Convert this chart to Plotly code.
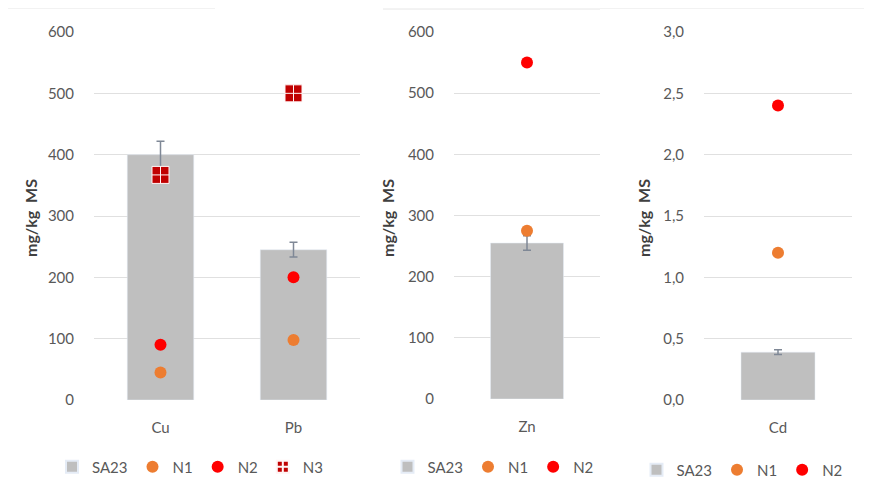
import plotly.graph_objects as go

# ---- data ----
cats_a = ["Cu", "Pb"]
sa23_a = [400, 245]
err_a = [22, 12]
n1_a = [45, 98]
n2_a = [90, 200]
n3_a = [367, 500]

cats_b = ["Zn"]
sa23_b = [255]
err_b = [12]
n1_b = [275]
n2_b = [550]

cats_c = ["Cd"]
sa23_c = [0.39]
err_c = [0.02]
n1_c = [1.2]
n2_c = [2.4]

OFF = 8                      # page body margin offset
W, H = 872 - OFF, 490 - OFF  # figure size so that it fits in the window
BAR = "#BFBFBF"
C_N1 = "#ED7D31"
C_N2 = "#FF0000"
C_N3 = "#C00000"
ERR = "#7F8896"
FONT = "Lato"

def fx(p):
    return (p - OFF) / W

def fy(p):
    return 1 - (p - OFF) / H

def px_x(a, b):
    return [fx(a), fx(b)]

def px_y(top, bottom):
    return [fy(bottom), fy(top)]

fig = go.Figure()

def add_panel(cats, sa, err, n1, n2, n3, xa, ya, leg):
    fig.add_trace(go.Bar(x=cats, y=sa, name="SA23", marker_color=BAR, width=0.5,
                         error_y=dict(type="data", array=err, color=ERR, thickness=1.5, width=4),
                         xaxis=xa, yaxis=ya, legend=leg))
    fig.add_trace(go.Scatter(x=cats, y=n1, name="N1", mode="markers",
                             marker=dict(color=C_N1, size=12, symbol="circle"),
                             xaxis=xa, yaxis=ya, legend=leg))
    fig.add_trace(go.Scatter(x=cats, y=n2, name="N2", mode="markers",
                             marker=dict(color=C_N2, size=12, symbol="circle"),
                             xaxis=xa, yaxis=ya, legend=leg))
    if n3 is not None:
        fig.add_trace(go.Scatter(x=cats, y=n3, name="N3", mode="markers",
                                 marker=dict(color=C_N3, size=17, symbol="square-cross",
                                             line=dict(color="#FFF4F4", width=1)),
                                 xaxis=xa, yaxis=ya, legend=leg))

add_panel(cats_a, sa23_a, err_a, n1_a, n2_a, n3_a, "x", "y", "legend")
add_panel(cats_b, sa23_b, err_b, n1_b, n2_b, None, "x2", "y2", "legend2")
add_panel(cats_c, sa23_c, err_c, n1_c, n2_c, None, "x3", "y3", "legend3")

tickfont = dict(family=FONT, size=15, color="#595959")
xcommon = dict(showgrid=False, showline=False, zeroline=False, ticks="outside",
               ticklen=14, tickcolor="rgba(0,0,0,0)", tickfont=tickfont, automargin=False)
ycommon = dict(showgrid=True, gridcolor="#E0E0E0", gridwidth=1, zeroline=False, showline=False,
               ticks="outside", ticklen=16, tickcolor="rgba(0,0,0,0)", tickfont=tickfont,
               automargin=False)

legcommon = dict(orientation="h", xanchor="center", yanchor="middle",
                 font=dict(family=FONT, size=15, color="#595959"), itemsizing="constant",
                 itemwidth=30, bgcolor="rgba(0,0,0,0)")

fig.update_layout(
    width=W, height=H,
    margin=dict(l=0, r=0, t=0, b=0, autoexpand=False),
    paper_bgcolor="white", plot_bgcolor="white",
    separators=", ",
    barmode="overlay",
    font=dict(family=FONT, color="#595959"),
    xaxis=dict(domain=px_x(94, 360), anchor="y", **xcommon),
    yaxis=dict(domain=px_y(32, 400), anchor="x", range=[0, 600], dtick=100, **ycommon),
    xaxis2=dict(domain=px_x(454, 600), anchor="y2", **xcommon),
    yaxis2=dict(domain=px_y(32, 399), anchor="x2", range=[0, 600], dtick=100, **ycommon),
    xaxis3=dict(domain=px_x(704, 852), anchor="y3", **xcommon),
    yaxis3=dict(domain=px_y(32, 400), anchor="x3", range=[0, 3], dtick=0.5, tickformat=".1f", **ycommon),
    legend=dict(x=fx(190), y=fy(467), **legcommon),
    legend2=dict(x=fx(493), y=fy(467), **legcommon),
    legend3=dict(x=fx(742), y=fy(470), **legcommon),
)

for xp, yp in [(30, 218), (387, 218), (643, 218)]:
    fig.add_annotation(text="<b>mg/kg&nbsp; MS</b>", xref="paper", yref="paper",
                       x=fx(xp), y=fy(yp), textangle=-90, showarrow=False,
                       font=dict(family=FONT, size=16, color="#404040"),
                       xanchor="center", yanchor="middle")

# faint panel borders
for x0, x1, yy in [(8, 215, 8), (383, 600, 9), (600, 872, 8)]:
    fig.add_shape(type="line", xref="paper", yref="paper", x0=fx(x0), x1=fx(x1),
                  y0=fy(yy), y1=fy(yy), line=dict(color="#E6E6E6", width=1))

fig.write_html("out.html")
